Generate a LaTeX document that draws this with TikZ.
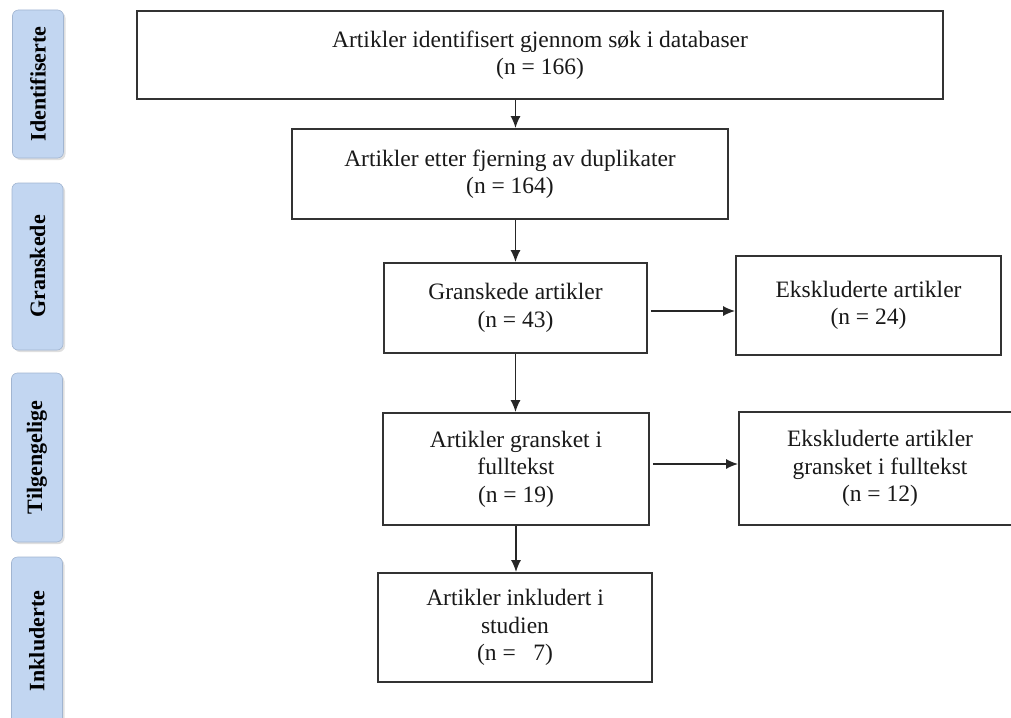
\documentclass[tikz,border=0pt]{standalone}
\usepackage{fontspec}
\setmainfont{Liberation Serif}
\usetikzlibrary{arrows.meta,shadows}

\definecolor{phaseedge}{HTML}{A9C3E6}
\definecolor{phasemid}{HTML}{E2EBF8}
\definecolor{phaseside}{HTML}{C2D6F1}

\begin{document}
\begin{tikzpicture}[x=1pt,y=-1pt]

  \tikzset{
    flowbox/.style={draw=black!80, line width=1.8pt, fill=white, align=center, inner sep=0pt,
      text=black!90, font=\fontsize{23.5}{27.5}\selectfont},
    phase/.style={rotate=90, rounded corners=6pt, draw=phaseedge!80!gray, line width=0.6pt,
      left color=phaseside, middle color=phasemid, right color=phaseside, inner sep=0pt,
      minimum height=51pt, font=\fontsize{22}{24}\selectfont\bfseries,
      drop shadow={shadow xshift=2pt, shadow yshift=-2pt, opacity=0.25}},
    flowarrow/.style={-{Latex[length=12pt,width=10pt]}, line width=1.5pt, draw=black!85},
  }

  \useasboundingbox (0,0) rectangle (1011,717);

  \node[phase, minimum width=148pt] (identphase) at (38,84) {Identifiserte};
  \node[phase, minimum width=167pt] (screenphase) at (37.5,266.5) {Granskede};
  \node[phase, minimum width=169pt] (availphase) at (37,457.5) {Tilgengelige};
  \node[phase, minimum width=168pt] (inclphase) at (37,641) {Inkluderte};

  \node[flowbox, minimum width=806pt, minimum height=88pt] (ident) at (540,55)
    {Artikler identifisert gjennom søk i databaser\\(n = 166)};
  \node[flowbox, minimum width=436pt, minimum height=90pt] (dupl) at (510,174)
    {Artikler etter fjerning av duplikater\\(n = 164)};
  \node[flowbox, minimum width=263pt, minimum height=90pt] (screen) at (515.5,308)
    {Granskede artikler\\(n = 43)};
  \node[flowbox, minimum width=265pt, minimum height=99pt] (exclone) at (868.5,305.5)
    {Ekskluderte artikler\\(n = 24)};
  \node[flowbox, minimum width=266pt, minimum height=112pt] (fulltxt) at (516,469)
    {Artikler gransket i\\fulltekst\\(n = 19)};
  \node[flowbox, minimum width=282pt, minimum height=113pt] (excltwo) at (880,468.5)
    {Ekskluderte artikler\\gransket i fulltekst\\(n = 12)};
  \node[flowbox, minimum width=274pt, minimum height=109pt] (incl) at (515,627.5)
    {Artikler inkludert i\\studien\\(n =~~~7)};

  \coordinate (screenout) at ([xshift=3pt,yshift=-3pt]screen.east);
  \coordinate (fullout) at ([xshift=3pt,yshift=5pt]fulltxt.east);

  \draw[flowarrow] (ident.south -| screen.north) -- (dupl.north -| screen.north);
  \draw[flowarrow] (dupl.south -| screen.north) -- (screen.north);
  \draw[flowarrow] (screen.south) -- (fulltxt.north -| screen.south);
  \draw[flowarrow] (fulltxt.south) -- (incl.north -| fulltxt.south);
  \draw[flowarrow] (screenout) -- (exclone.west |- screenout);
  \draw[flowarrow] (fullout) -- (excltwo.west |- fullout);

\end{tikzpicture}
\end{document}
